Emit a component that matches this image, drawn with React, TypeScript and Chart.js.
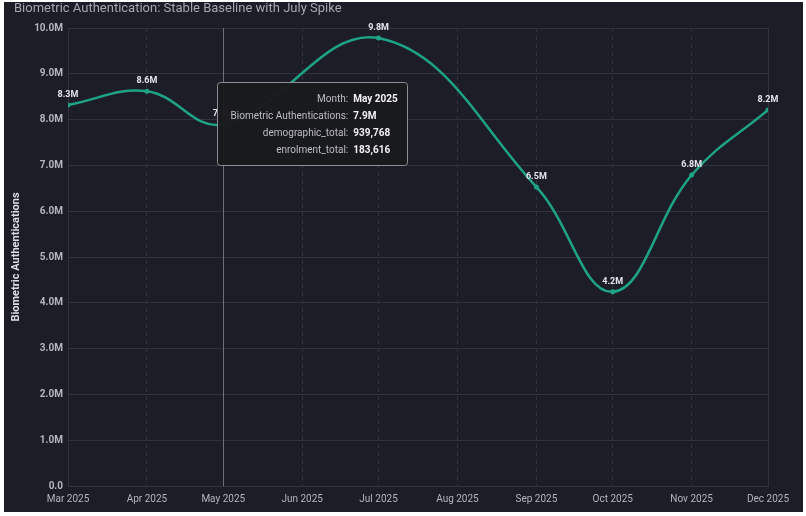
import React, { useEffect, useRef } from 'react';
import { Chart, registerables } from 'chart.js';

Chart.register(...registerables);

const TITLE = 'Biometric Authentication: Stable Baseline with July Spike';
const Y_TITLE = 'Biometric Authentications';
const MONTH_LABELS = ['Mar 2025', 'Apr 2025', 'May 2025', 'Jun 2025', 'Jul 2025', 'Aug 2025', 'Sep 2025', 'Oct 2025', 'Nov 2025', 'Dec 2025'];
const MONTH_NUMBERS = [3, 4, 5, 6, 7, 8, 9, 10, 11, 12];
const AUTH_VALUES: (number | null)[] = [8320000, 8620000, 7900000, null, 9780000, null, 6530000, 4240000, 6790000, 8210000];
const Y_MAX = 10000000;
const Y_STEP = 1000000;

const TOOLTIP_MONTH = 5;
const TOOLTIP_DEMOGRAPHIC = 939768;
const TOOLTIP_ENROLMENT = 183616;

const FONT = 'Roboto, "Noto Sans", sans-serif';
const BG = '#1c1d27';
const GRID = '#30323e';
const LINE = '#1fa386';

const dayOf = (m: number) => (Date.UTC(2025, m - 1, 1) - Date.UTC(2025, 2, 1)) / 86400000;
const fmtM = (v: number) => (v === 0 ? '0.0' : (v / 1e6).toFixed(1) + 'M');

export default function App() {
  const ref = useRef<HTMLCanvasElement | null>(null);

  useEffect(() => {
    document.body.style.margin = '0';
    const canvas = ref.current;
    if (!canvas) return;

    const points = MONTH_NUMBERS.map((m, i) => (AUTH_VALUES[i] == null ? null : { x: dayOf(m), y: AUTH_VALUES[i] as number })).filter(
      (p) => p !== null
    ) as { x: number; y: number }[];
    const tickValues = MONTH_NUMBERS.map(dayOf);

    const overlay = {
      id: 'overlay',
      beforeDatasetsDraw(chart: any) {
        const { ctx, chartArea } = chart;
        ctx.save();
        ctx.strokeStyle = GRID;
        ctx.lineWidth = 1;
        ctx.strokeRect(chartArea.left + 0.5, chartArea.top + 0.5, chartArea.right - chartArea.left, chartArea.bottom - chartArea.top);
        const x = chart.scales.x.getPixelForValue(dayOf(TOOLTIP_MONTH));
        ctx.strokeStyle = '#6c6e79';
        ctx.beginPath();
        ctx.moveTo(Math.round(x) + 0.5, chartArea.top);
        ctx.lineTo(Math.round(x) + 0.5, chartArea.bottom);
        ctx.stroke();
        ctx.restore();
      },
      afterDatasetsDraw(chart: any) {
        const { ctx } = chart;
        const meta = chart.getDatasetMeta(0);
        ctx.save();
        ctx.font = `bold 9px ${FONT}`;
        ctx.fillStyle = '#e4e4ea';
        ctx.textAlign = 'center';
        ctx.textBaseline = 'middle';
        meta.data.forEach((el: any, i: number) => {
          ctx.fillText(fmtM(points[i].y), el.x, el.y - 10);
        });
        ctx.restore();
      },
      afterDraw(chart: any) {
        const { ctx } = chart;
        ctx.save();
        ctx.font = `13px ${FONT}`;
        ctx.fillStyle = '#a6a7b1';
        ctx.textAlign = 'left';
        ctx.textBaseline = 'middle';
        ctx.fillText(TITLE, 10, 7);

        const idx = points.findIndex((p) => p.x === dayOf(TOOLTIP_MONTH));
        if (idx >= 0) {
          const el = chart.getDatasetMeta(0).data[idx];
          const px = el.x;
          const py = el.y;
          const bx = px - 6;
          const by = py - 42;
          const bw = 190;
          const bh = 83;
          ctx.fillStyle = 'rgba(26,26,30,0.97)';
          ctx.strokeStyle = '#8d8e95';
          ctx.lineWidth = 1;
          ctx.beginPath();
          ctx.roundRect(Math.round(bx) + 0.5, Math.round(by) + 0.5, bw, bh, 3);
          ctx.fill();
          ctx.stroke();
          const rows: [string, string][] = [
            ['Month:', MONTH_LABELS[MONTH_NUMBERS.indexOf(TOOLTIP_MONTH)]],
            ['Biometric Authentications:', fmtM(points[idx].y)],
            ['demographic_total:', TOOLTIP_DEMOGRAPHIC.toLocaleString('en-US')],
            ['enrolment_total:', TOOLTIP_ENROLMENT.toLocaleString('en-US')],
          ];
          const colX = px + 125;
          rows.forEach(([k, v], r) => {
            const y = py - 25 + r * 17;
            ctx.font = `10px ${FONT}`;
            ctx.fillStyle = '#bdbdc5';
            ctx.textAlign = 'right';
            ctx.fillText(k, colX, y);
            ctx.font = `bold 10px ${FONT}`;
            ctx.fillStyle = '#f2f2f5';
            ctx.textAlign = 'left';
            ctx.fillText(v, colX + 5, y);
          });
        }
        ctx.restore();
      },
    };

    const chart = new Chart(canvas, {
      type: 'line',
      data: {
        datasets: [
          {
            label: Y_TITLE,
            data: points,
            borderColor: LINE,
            backgroundColor: LINE,
            borderWidth: 2.5,
            tension: 0.4,
            pointRadius: 2.5,
            pointBorderWidth: 0,
            pointBackgroundColor: LINE,
          },
        ],
      },
      options: {
        responsive: false,
        animation: false,
        devicePixelRatio: 1,
        layout: { padding: { left: 0, right: 35, top: 26, bottom: 0 } },
        plugins: {
          legend: { display: false },
          tooltip: { enabled: false },
          title: { display: false },
        },
        scales: {
          x: {
            type: 'linear',
            min: tickValues[0],
            max: tickValues[tickValues.length - 1],
            afterBuildTicks: (scale: any) => {
              scale.ticks = tickValues.map((v) => ({ value: v }));
            },
            afterFit: (scale: any) => {
              scale.height = 26;
            },
            ticks: {
              autoSkip: false,
              maxRotation: 0,
              padding: 7,
              color: '#b4b5bf',
              font: { family: FONT, size: 10 },
              callback: (v: any) => {
                const i = tickValues.indexOf(Number(v));
                return i >= 0 ? MONTH_LABELS[i] : '';
              },
            },
            grid: { color: GRID, drawTicks: false, lineWidth: 1 },
            border: { display: true, color: GRID, dash: [4, 4] },
          },
          y: {
            min: 0,
            max: Y_MAX,
            afterFit: (scale: any) => {
              scale.width = 64;
            },
            ticks: {
              stepSize: Y_STEP,
              padding: 5,
              color: '#b4b5bf',
              font: { family: FONT, size: 10, weight: 'bold' },
              callback: (v: any) => fmtM(Number(v)),
            },
            grid: { color: GRID, drawTicks: false, lineWidth: 1 },
            border: { display: true, color: GRID },
            title: {
              display: true,
              text: Y_TITLE,
              color: '#dcdce2',
              font: { family: FONT, size: 11, weight: 'bold' },
              padding: { top: 6, bottom: 0 },
            },
          },
        },
      },
      plugins: [overlay],
    } as any);

    return () => chart.destroy();
  }, []);

  return (
    <div style={{ position: 'relative', width: 806, height: 516, background: '#ffffff', overflow: 'hidden' }}>
      <div style={{ position: 'absolute', left: 4, top: 2, width: 799, height: 510, background: BG }}>
        <canvas ref={ref} width={799} height={510} style={{ display: 'block', width: 799, height: 510 }} />
      </div>
    </div>
  );
}
